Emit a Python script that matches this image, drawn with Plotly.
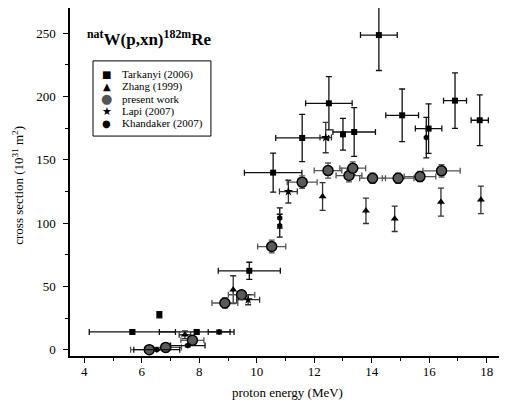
import plotly.graph_objects as go

# ---- data (proton energy in MeV, cross section in 10^-31 m^2) ----
tark_E = [5.67, 6.61, 7.91, 9.74, 10.57, 11.58, 12.51, 13.0, 13.39, 14.25, 15.06, 15.98, 16.9, 17.76]
tark_s = [14, 27.6, 14, 62.3, 139.9, 167.3, 194.7, 170.2, 172, 248.6, 185.2, 174.7, 196.8, 181.3]
tark_dE = [1.5, 0, 1.3, 1.08, 1.0, 0.92, 0.81, 0, 0.74, 0.64, 0.57, 0.46, 0.4, 0.3]
tark_ds = [1.5, 2.5, 1.5, 6.8, 15.4, 18.7, 21, 12.5, 19.3, 28, 20.8, 19.6, 22, 20]

zhang_E = [7.5, 9.18, 12.29, 13.8, 14.8, 16.41, 17.8]
zhang_s = [11.8, 47.4, 121, 109.7, 103.4, 116.6, 118.4]
zhang_dE = [0.2, 0, 0, 0, 0, 0, 0]
zhang_ds = [3, 11, 11, 10, 10, 11, 10.9]

pres_E = [6.26, 6.83, 7.76, 8.89, 9.47, 10.52, 11.58, 12.48, 13.21, 13.34, 14.03, 14.92, 15.68, 16.43]
pres_s = [0, 1.8, 7.4, 36.9, 43.4, 81.5, 132.4, 141.5, 137.6, 143.4, 135.5, 135.5, 136.8, 141.3]
pres_dE = [0.65, 0.55, 0.4, 0.45, 0.46, 0.49, 0.52, 0.48, 0.45, 0.45, 0.45, 0.55, 0.55, 0.65]
pres_ds = [0.5, 0.5, 1, 4, 3, 5, 5, 6, 5, 5, 4, 4, 4, 5]

lapi_E = [9.70, 11.1, 12.4]
lapi_s = [39.5, 124.9, 167.6]
lapi_dE = [0.4, 0.31, 0.2]
lapi_ds = [4, 9, 12]

khan_E = [6.52, 7.6, 8.69, 10.8, 10.8, 15.9]
khan_s = [0, 3.2, 14, 98, 104, 167.6]
khan_dE = [0.8, 0.6, 0.38, 0, 0, 0]
khan_ds = [0.5, 1, 1.5, 9, 8, 16]

series_names = ["Tarkanyi (2006)", "Zhang (1999)", "present work", "Lapi (2007)", "Khandaker (2007)"]

FONT = "Liberation Serif, Times New Roman, serif"

def trace(name, E, s, dE, ds, symbol, size, color, ecolor, lcolor="black", lw=0):
    return go.Scatter(
        x=E, y=s, mode="markers", name=name, showlegend=False,
        marker=dict(symbol=symbol, size=size, color=color, line=dict(color=lcolor, width=lw)),
        error_x=dict(type="data", array=dE, visible=True, color=ecolor, thickness=1.3, width=3),
        error_y=dict(type="data", array=ds, visible=True, color=ecolor, thickness=1.3, width=3),
    )

fig = go.Figure()
fig.add_trace(trace(series_names[0], tark_E, tark_s, tark_dE, tark_ds, "square", 6, "black", "#111"))
fig.add_trace(trace(series_names[1], zhang_E, zhang_s, zhang_dE, zhang_ds, "triangle-up", 7, "black", "#333"))
fig.add_trace(trace(series_names[2], pres_E, pres_s, pres_dE, pres_ds, "circle", 10, "#5a5a5a", "#555", "black", 1.5))
fig.add_trace(trace(series_names[3], lapi_E, lapi_s, lapi_dE, lapi_ds, "star", 7, "black", "#333"))
fig.add_trace(trace(series_names[4], khan_E, khan_s, khan_dE, khan_ds, "hexagon", 6, "black", "#111"))

axis_common = dict(
    showline=True, linecolor="black", linewidth=1.5, mirror="allticks",
    ticks="outside", ticklen=5, tickwidth=1, tickcolor="black",
    showgrid=False, zeroline=False, automargin=False,
    tickfont=dict(family=FONT, size=13, color="black"),
)

fig.update_layout(
    template="none",
    width=507, height=406,
    margin=dict(l=62, r=14, t=0, b=58),
    paper_bgcolor="white", plot_bgcolor="white",
    font=dict(family=FONT, color="black"),
    xaxis=dict(range=[3.5, 18.5], dtick=2, tick0=4, ticklabelstandoff=-2,
               minor=dict(dtick=1, ticklen=3, ticks="outside", tickcolor="black"),
               **axis_common),
    yaxis=dict(range=[-5, 270], dtick=50, tick0=0, ticklabelstandoff=5,
               minor=dict(dtick=25, ticklen=3, ticks="outside", tickcolor="black"),
               **axis_common),
    showlegend=False,
)

# axis titles
fig.add_annotation(xref="paper", yref="paper", x=0.5035, y=-0.1063, xanchor="center", yanchor="middle",
                   text="proton energy (MeV)", showarrow=False, font=dict(family=FONT, size=13))
fig.add_annotation(xref="paper", yref="paper", x=-0.120, y=0.49, xanchor="center", yanchor="middle",
                   textangle=-90, text="cross section (10<sup>31</sup> m<sup>2</sup>)", showarrow=False,
                   font=dict(family=FONT, size=13))

# chart title inside plot
fig.add_annotation(
    xref="paper", yref="paper", x=0.035, y=0.952, xanchor="left", yanchor="top",
    text="<b><sup>nat</sup>W(p,xn)<sup>182m</sup>Re</b>", showarrow=False,
    font=dict(family=FONT, size=17, color="black"),
)

# compact legend box
fig.add_shape(type="rect", xref="paper", yref="paper", x0=0.0534, x1=0.327, y0=0.632, y1=0.848,
              line=dict(color="black", width=1), fillcolor="white", layer="above")
leg_syms = ["■", "▲", "●", "★", "●"]
leg_sym_sizes = [10, 10, 13, 11, 10]
leg_sym_colors = ["black", "black", "#555", "black", "black"]
row_y = [0.8103, 0.7750, 0.7397, 0.7040, 0.6690]
for name, sym, ssz, scol, yy in zip(series_names, leg_syms, leg_sym_sizes, leg_sym_colors, row_y):
    fig.add_annotation(xref="paper", yref="paper", x=0.0858, y=yy, xanchor="center", yanchor="middle",
                       text=sym, showarrow=False, font=dict(family="DejaVu Sans", size=ssz, color=scol))
    fig.add_annotation(xref="paper", yref="paper", x=0.116, y=yy, xanchor="left", yanchor="middle",
                       text=name, showarrow=False, font=dict(family=FONT, size=11, color="black"))

fig.write_html("out.html")
